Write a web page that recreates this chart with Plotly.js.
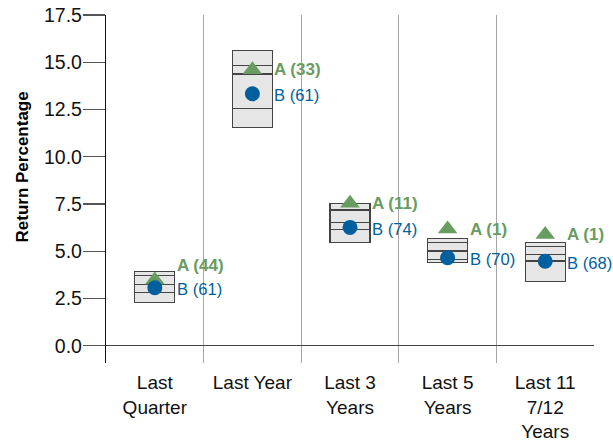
<!DOCTYPE html>
<html>
<head>
<meta charset="utf-8">
<script src="https://cdn.plot.ly/plotly-3.0.1.min.js"></script>
<style>html,body{margin:0;padding:0;background:#fff;}#chart{width:613px;height:441px;}</style>
</head>
<body>
<div id="chart"></div>
<script>
// ---- data ----
var categories = ["Last<br>Quarter", "Last Year", "Last 3<br>Years", "Last 5<br>Years", "Last 11<br>7/12<br>Years"];
var pct5  = [3.92, 15.62, 7.54, 5.69, 5.45];   // top of box
var pct25 = [3.70, 14.81, 7.18, 5.45, 5.24];
var pct50 = [3.25, 14.38, 6.53, 5.01, 4.84];
var pct75 = [2.81, 12.57, 6.16, 4.57, 4.48];
var pct95 = [2.28, 11.54, 5.47, 4.41, 3.39];   // bottom of box
var aValues = [3.48, 14.60, 7.54, 6.17, 5.89];
var aRanks  = [44, 33, 11, 1, 1];
var bValues = [3.07, 13.33, 6.26, 4.65, 4.47];
var bRanks  = [61, 61, 74, 70, 68];
var yTicks = [0, 2.5, 5, 7.5, 10, 12.5, 15, 17.5];

// ---- styling ----
var GREEN = "#689c60", BLUE = "#005f9c";
var FONT = "Liberation Sans, Arial, sans-serif";
var boxFill = "#e6e6e6", boxLine = "#444";
var barW = 0.41;

function diff(a, b) { return a.map(function (v, i) { return v - b[i]; }); }

var segStyle = {type: "bar", x: categories, width: barW, hoverinfo: "skip", showlegend: false,
  marker: {color: boxFill, line: {color: boxLine, width: 1.3}}};
function seg(y) { return Object.assign({}, segStyle, {y: y}); }

var traces = [
  {type: "bar", x: categories, y: pct95, width: barW, hoverinfo: "skip", showlegend: false,
   marker: {color: "rgba(0,0,0,0)", line: {width: 0}}},
  seg(diff(pct75, pct95)),
  seg(diff(pct50, pct75)),
  seg(diff(pct25, pct50)),
  seg(diff(pct5, pct25)),
  {type: "scatter", mode: "markers", x: categories, y: aValues, showlegend: false,
   marker: {symbol: "triangle-up", size: 17, color: GREEN}},
  {type: "scatter", mode: "markers", x: categories, y: bValues, showlegend: false,
   marker: {symbol: "circle", size: 15, color: BLUE}}
];

var yMin = -0.916, yMax = 17.5;
var plotTop = 15, plotBottom = 363;
var pxPerUnit = (plotBottom - plotTop) / (yMax - yMin);

var annotations = [];
categories.forEach(function (c, i) {
  var gapPx = (aValues[i] - bValues[i]) * pxPerUnit;
  var aShift = gapPx < 18 ? 22 - gapPx : 0;
  annotations.push({x: c, y: aValues[i], xref: "x", yref: "y", xanchor: "left", yanchor: "middle",
    xshift: 20, yshift: aShift, showarrow: false, text: "<b>A (" + aRanks[i] + ")</b>",
    font: {family: FONT, size: 17, color: GREEN}});
  annotations.push({x: c, y: bValues[i], xref: "x", yref: "y", xanchor: "left", yanchor: "middle",
    xshift: 20, yshift: -2, showarrow: false, text: "B (" + bRanks[i] + ")",
    font: {family: FONT, size: 16.6, color: BLUE}});
});
annotations.push({xref: "paper", yref: "paper", x: -0.172, y: 0.562, xanchor: "center", yanchor: "middle",
  textangle: -90, showarrow: false, text: "<b>Return Percentage</b>",
  font: {family: FONT, size: 17, color: "#000"}});

var layout = {
  width: 613, height: 441,
  margin: {l: 106, r: 19, t: plotTop, b: 441 - plotBottom, pad: 0},
  paper_bgcolor: "#fff", plot_bgcolor: "#fff",
  barmode: "stack",
  showlegend: false,
  font: {family: FONT, size: 19, color: "#000"},
  xaxis: {
    type: "category", range: [-0.5, 4.5], tickson: "boundaries",
    showgrid: true, gridcolor: "#a6a6a6", gridwidth: 1.2,
    ticks: "", showline: false, zeroline: false, ticklabelstandoff: 6,
    tickfont: {family: FONT, size: 19, color: "#111"}, fixedrange: true
  },
  yaxis: {
    range: [yMin, yMax], tickvals: yTicks, ticktext: yTicks.map(function (v) { return v.toFixed(1); }),
    showgrid: false, zeroline: true, zerolinecolor: "#444", zerolinewidth: 1.6,
    showline: true, linecolor: "#111", linewidth: 1.2,
    ticks: "outside", ticklen: 22, tickcolor: "#555", tickwidth: 1.2, ticklabelstandoff: -3,
    tickfont: {family: FONT, size: 19.5, color: "#111"}, fixedrange: true
  },
  annotations: annotations
};

Plotly.newPlot("chart", traces, layout, {displayModeBar: false, staticPlot: true});
</script>
</body>
</html>
